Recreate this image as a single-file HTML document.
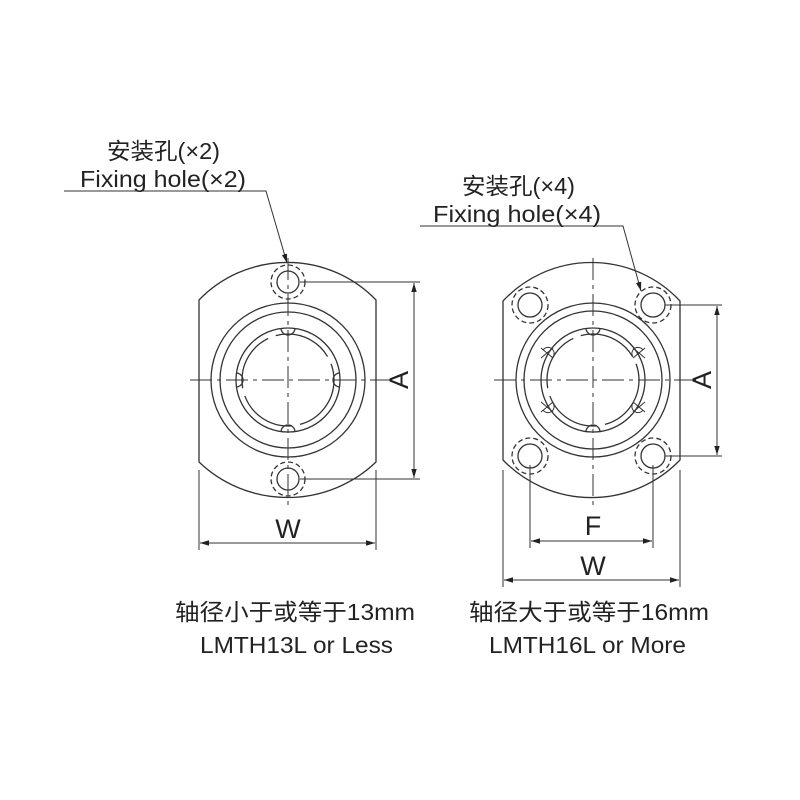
<!DOCTYPE html>
<html><head><meta charset="utf-8"><style>
html,body{margin:0;padding:0;background:#fff;}
svg{display:block}
text{font-family:"Liberation Sans","Noto Sans CJK SC",sans-serif;fill:#222}
</style></head><body>
<svg width="800" height="800" viewBox="0 0 800 800" xmlns="http://www.w3.org/2000/svg">
<defs>
<marker id="ar" viewBox="0 0 10 10" refX="10" refY="5" markerWidth="9" markerHeight="9" orient="auto-start-reverse" markerUnits="userSpaceOnUse"><path d="M0,2 L10,5 L0,8 z" fill="#222"/></marker>
</defs>
<g stroke="#333" stroke-width="1.3" fill="none">
<!-- LEFT -->
<path d="M199,300 A123,123 0 0 1 376,300 L376,462 A128,128 0 0 1 199,462 Z"/>
<circle cx="288" cy="380" r="77"/>
<circle cx="288" cy="380" r="68"/>
<circle cx="288" cy="380" r="52"/>
<circle cx="288" cy="380" r="46" stroke-dasharray="60 8"/>
<circle cx="288" cy="282" r="11"/>
<circle cx="288" cy="282" r="17" stroke-dasharray="5 3"/>
<circle cx="288" cy="479" r="11"/>
<circle cx="288" cy="479" r="17" stroke-dasharray="5 3"/>
<path d="M281,328 a7,7 0 0 0 14,0 M281,432 a7,7 0 0 1 14,0 M236,373 a7,7 0 0 1 0,14 M340,373 a7,7 0 0 0 0,14"/>
<g stroke-width="1" stroke-dasharray="22 5 4 5">
<line x1="190" y1="380" x2="394" y2="380"/>
<line x1="288" y1="258" x2="288" y2="510"/>
</g>
<line x1="300" y1="282" x2="420" y2="282" stroke-width="1"/>
<line x1="300" y1="479" x2="420" y2="479" stroke-width="1"/>
<line x1="414" y1="283" x2="414" y2="478" stroke-width="1" marker-start="url(#ar)" marker-end="url(#ar)"/>
<line x1="199" y1="470" x2="199" y2="550" stroke-width="1"/>
<line x1="376" y1="470" x2="376" y2="550" stroke-width="1"/>
<line x1="200" y1="543" x2="375" y2="543" stroke-width="1" marker-start="url(#ar)" marker-end="url(#ar)"/>
<polyline points="64,191 266,191 287,263" stroke-width="1" marker-end="url(#ar)"/>
<!-- RIGHT -->
<path d="M503,301 A121,121 0 0 1 680,301 L680,460 A123,123 0 0 1 503,460 Z"/>
<circle cx="593" cy="380" r="77"/>
<circle cx="593" cy="380" r="69"/>
<circle cx="593" cy="380" r="52"/>
<circle cx="593" cy="380" r="46" stroke-dasharray="60 8"/>
<circle cx="530" cy="305" r="12"/><circle cx="530" cy="305" r="18" stroke-dasharray="5 3"/>
<circle cx="653" cy="305" r="12"/><circle cx="653" cy="305" r="18" stroke-dasharray="5 3"/>
<circle cx="530" cy="456" r="12"/><circle cx="530" cy="456" r="18" stroke-dasharray="5 3"/>
<circle cx="653" cy="456" r="12"/><circle cx="653" cy="456" r="18" stroke-dasharray="5 3"/>
<path d="M586,328 a7,7 0 0 0 14,0 M586,432 a7,7 0 0 1 14,0"/>
<g stroke-width="1">
<path d="M543,350 a6,6 0 0 1 10,7 M633,357 a6,6 0 0 1 10,-7 M543,410 a6,6 0 0 0 10,-7 M633,403 a6,6 0 0 0 10,7"/>
<path d="M541,348 l12,10 M541,358 l12,-10 M633,348 l12,10 M633,358 l12,-10 M541,402 l12,10 M541,412 l12,-10 M633,402 l12,10 M633,412 l12,-10"/>
</g>
<g stroke-width="1" stroke-dasharray="22 5 4 5">
<line x1="494" y1="380" x2="700" y2="380"/>
<line x1="593" y1="258" x2="593" y2="510"/>
</g>
<line x1="665" y1="305" x2="722" y2="305" stroke-width="1"/>
<line x1="665" y1="456" x2="722" y2="456" stroke-width="1"/>
<line x1="717" y1="306" x2="717" y2="455" stroke-width="1" marker-start="url(#ar)" marker-end="url(#ar)"/>
<line x1="530" y1="465" x2="530" y2="548" stroke-width="1"/>
<line x1="653" y1="465" x2="653" y2="548" stroke-width="1"/>
<line x1="531" y1="541" x2="652" y2="541" stroke-width="1" marker-start="url(#ar)" marker-end="url(#ar)"/>
<line x1="503" y1="470" x2="503" y2="587" stroke-width="1"/>
<line x1="680" y1="470" x2="680" y2="587" stroke-width="1"/>
<line x1="504" y1="580" x2="679" y2="580" stroke-width="1" marker-start="url(#ar)" marker-end="url(#ar)"/>
<polyline points="420,226 623,226 641,291" stroke-width="1" marker-end="url(#ar)"/>
</g>
<g font-size="23">
<text x="107" y="159" textLength="113" lengthAdjust="spacingAndGlyphs">安装孔(×2)</text>
<text x="80" y="187" textLength="166" lengthAdjust="spacingAndGlyphs">Fixing hole(×2)</text>
<text x="462" y="194" textLength="113" lengthAdjust="spacingAndGlyphs">安装孔(×4)</text>
<text x="433" y="222" textLength="168" lengthAdjust="spacingAndGlyphs">Fixing hole(×4)</text>
<text x="175" y="620" textLength="240" lengthAdjust="spacingAndGlyphs">轴径小于或等于13mm</text>
<text x="200" y="653" textLength="193" lengthAdjust="spacingAndGlyphs">LMTH13L or Less</text>
<text x="469" y="620" textLength="240" lengthAdjust="spacingAndGlyphs">轴径大于或等于16mm</text>
<text x="489" y="653" textLength="197" lengthAdjust="spacingAndGlyphs">LMTH16L or More</text>
</g>
<g font-size="27" text-anchor="middle">
<text x="288" y="538">W</text>
<text x="593" y="535">F</text>
<text x="593" y="575">W</text>
<text transform="translate(408,380) rotate(-90)">A</text>
<text transform="translate(711,380) rotate(-90)">A</text>
</g>
</svg>
</body></html>
